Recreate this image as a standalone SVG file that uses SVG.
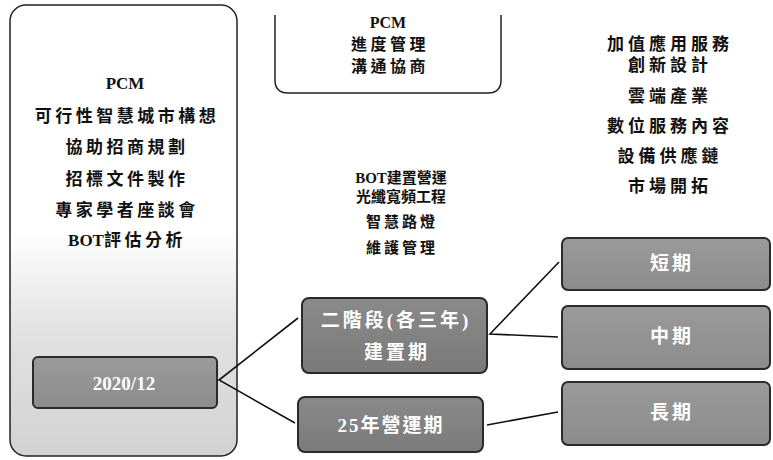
<svg xmlns="http://www.w3.org/2000/svg" width="773" height="460" viewBox="0 0 773 460">
<defs>
<linearGradient id="leftbg" x1="0" y1="0" x2="0" y2="1">
<stop offset="0" stop-color="#ffffff"/>
<stop offset="0.5" stop-color="#ffffff"/>
<stop offset="0.72" stop-color="#e2e2e2"/>
<stop offset="1" stop-color="#d2d2d2"/>
</linearGradient>
<linearGradient id="boxfill" x1="0" y1="0" x2="0" y2="1">
<stop offset="0" stop-color="#8a8a8a"/>
<stop offset="1" stop-color="#7a7a7a"/>
</linearGradient>
<linearGradient id="boxfill2" x1="0" y1="0" x2="0" y2="1">
<stop offset="0" stop-color="#9a9a9a"/>
<stop offset="1" stop-color="#8c8c8c"/>
</linearGradient>
</defs>
<style>
.t{font-family:"Liberation Serif","Noto Sans CJK TC",serif;font-weight:bold;fill:#111;text-anchor:middle;dominant-baseline:central}
.l{font-size:17px;letter-spacing:3.5px}
.m{font-size:15px}
.ms{font-size:15px;letter-spacing:3px}
.r{font-size:17px;letter-spacing:4px}
.tp{font-size:16px;letter-spacing:3.5px}
.w{font-family:"Liberation Serif","Noto Sans CJK TC",serif;font-weight:bold;fill:#ffffff;text-anchor:middle;dominant-baseline:central;font-size:19px;letter-spacing:3px}
.ns{letter-spacing:0}
.box{fill:url(#boxfill);stroke:#2a2a2a;stroke-width:2}
.box2{fill:url(#boxfill2);stroke:#2a2a2a;stroke-width:2}
.conn{stroke:#111;stroke-width:1.6;fill:none}
</style>

<g id="left-panel">
<rect x="10" y="5" width="227" height="451" rx="16" fill="url(#leftbg)" stroke="#222" stroke-width="1.5"/>
<text class="t l ns" x="125" y="83">PCM</text>
<text class="t l" x="127" y="116">可行性智慧城市構想</text>
<text class="t l" x="127" y="147">協助招商規劃</text>
<text class="t l" x="127" y="179">招標文件製作</text>
<text class="t l" x="127" y="210">專家學者座談會</text>
<text class="t l" x="127" y="240"><tspan class="ns">BOT</tspan>評估分析</text>
</g>

<g id="node-2020">
<rect class="box2" x="33" y="357" width="184" height="51" rx="5"/>
<text class="w ns" x="124" y="383">2020/12</text>
</g>

<g id="top-panel">
<path d="M275,15 V80 Q275,93 288,93 H488 Q501,93 501,80 V15" fill="#ffffff" stroke="#222" stroke-width="1.5"/>
<text class="t tp ns" x="388" y="22">PCM</text>
<text class="t tp" x="390" y="44">進度管理</text>
<text class="t tp" x="390" y="66">溝通協商</text>
</g>

<g id="middle-text">
<text class="t m" x="401" y="178">BOT建置營運</text>
<text class="t m" x="401" y="197">光纖寬頻工程</text>
<text class="t ms" x="402" y="222">智慧路燈</text>
<text class="t ms" x="402" y="248">維護管理</text>
</g>

<g id="right-text">
<text class="t r" x="670" y="44">加值應用服務</text>
<text class="t r" x="670" y="65">創新設計</text>
<text class="t r" x="670" y="96">雲端產業</text>
<text class="t r" x="670" y="126">數位服務內容</text>
<text class="t r" x="670" y="156">設備供應鏈</text>
<text class="t r" x="670" y="186">市場開拓</text>
</g>

<g id="node-build">
<rect class="box" x="302" y="298" width="185" height="75" rx="7"/>
<text class="w" x="396" y="320">二階段(各三年)</text>
<text class="w" x="397" y="352">建置期</text>
</g>

<g id="node-operate">
<rect class="box" x="298" y="397" width="185" height="55" rx="7"/>
<text class="w" x="391" y="425" style="letter-spacing:2px">25年營運期</text>
</g>

<g id="node-short">
<rect class="box2" x="562" y="238" width="208" height="52" rx="6"/>
<text class="w" x="672" y="263">短期</text>
</g>

<g id="node-mid">
<rect class="box2" x="562" y="306" width="208" height="63" rx="6"/>
<text class="w" x="672" y="336">中期</text>
</g>

<g id="node-long">
<rect class="box2" x="562" y="382" width="208" height="63" rx="6"/>
<text class="w" x="672" y="412">長期</text>
</g>

<g id="connectors">
<polyline class="conn" points="298,318 219,380 295,423"/>
<polyline class="conn" points="559,262 490,334 558,337"/>
<line class="conn" x1="487" y1="425" x2="558" y2="412"/>
</g>
</svg>
